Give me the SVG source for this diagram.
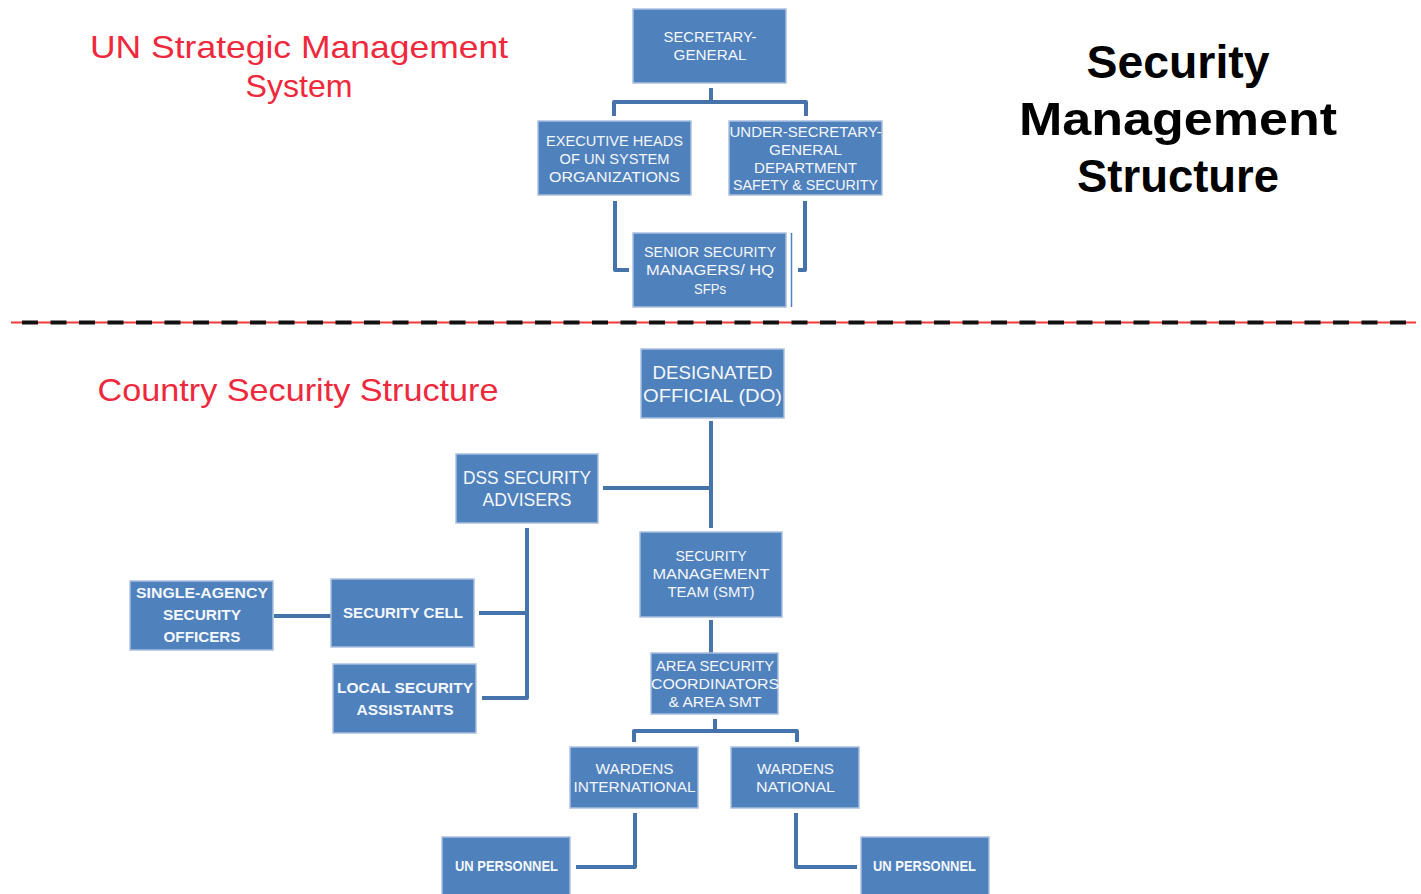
<svg xmlns="http://www.w3.org/2000/svg" width="1421" height="894" viewBox="0 0 1421 894">
<style>
.box{fill:#4F81BD;stroke:#A9C0DF;stroke-width:1.5}
.t{font-family:"Liberation Sans",Arial,sans-serif;fill:#F4F7FC;text-anchor:middle;font-size:15px}
.tb{font-family:"Liberation Sans",Arial,sans-serif;fill:#F4F7FC;text-anchor:middle;font-weight:bold;font-size:15px}
.tl{font-size:18px}
.red{font-family:"Liberation Sans",Arial,sans-serif;fill:#F0283C;text-anchor:middle;font-size:32px}
.big{font-family:"Liberation Sans",Arial,sans-serif;fill:#000;text-anchor:middle;font-weight:bold;font-size:46px}
.c{fill:none;stroke:#4673AA;stroke-width:4;stroke-linejoin:round}
</style>
<rect width="1421" height="894" fill="#fff"/>

<g id="titles">
<text class="red" x="299" y="58" textLength="418" lengthAdjust="spacingAndGlyphs">UN Strategic Management</text>
<text class="red" x="299" y="97" textLength="107" lengthAdjust="spacingAndGlyphs">System</text>
<text class="red" x="298" y="401" textLength="401" lengthAdjust="spacingAndGlyphs">Country Security Structure</text>
<text class="big" x="1178" y="78" textLength="183" lengthAdjust="spacingAndGlyphs">Security</text>
<text class="big" x="1178" y="135" textLength="318" lengthAdjust="spacingAndGlyphs">Management</text>
<text class="big" x="1178" y="192" textLength="202" lengthAdjust="spacingAndGlyphs">Structure</text>
</g>

<g id="divider">
<line x1="11" y1="322.5" x2="1416" y2="322.5" stroke="#F03A3A" stroke-width="2"/>
<line x1="22" y1="322.5" x2="1416" y2="322.5" stroke="#111" stroke-width="4" stroke-dasharray="16 12.5"/>
</g>

<g id="connectors">
<path class="c" d="M711 88V102M614 116V102H806V116"/>
<path class="c" d="M615 201V270H629"/>
<path class="c" d="M805 201V270H798"/>
<path class="c" d="M711 421V528"/>
<path class="c" d="M603 488H711"/>
<path class="c" d="M527 528V698H482"/>
<path class="c" d="M479 613H527"/>
<path class="c" d="M274 616H331" stroke-width="5"/>
<path class="c" d="M711 620V653"/>
<path class="c" d="M715 719V731M634 742V731H797V742"/>
<path class="c" d="M635 813V867H576"/>
<path class="c" d="M796 813V867H857"/>
<line x1="791.5" y1="233" x2="791.5" y2="307" stroke="#4F81BD" stroke-width="1.5"/>
</g>

<g id="sg">
<rect class="box" x="633" y="9" width="153" height="74"/>
<text class="t" x="710" y="42" textLength="93" lengthAdjust="spacingAndGlyphs">SECRETARY-</text>
<text class="t" x="710" y="60" textLength="73" lengthAdjust="spacingAndGlyphs">GENERAL</text>
</g>

<g id="exec">
<rect class="box" x="538" y="121" width="153" height="74"/>
<text class="t" x="614.5" y="146" textLength="137" lengthAdjust="spacingAndGlyphs">EXECUTIVE HEADS</text>
<text class="t" x="614.5" y="164" textLength="110" lengthAdjust="spacingAndGlyphs">OF UN SYSTEM</text>
<text class="t" x="614.5" y="182" textLength="131" lengthAdjust="spacingAndGlyphs">ORGANIZATIONS</text>
</g>

<g id="usg">
<rect class="box" x="729" y="121" width="153" height="74"/>
<text class="t" x="805.5" y="137" textLength="152" lengthAdjust="spacingAndGlyphs">UNDER-SECRETARY-</text>
<text class="t" x="805.5" y="155" textLength="73" lengthAdjust="spacingAndGlyphs">GENERAL</text>
<text class="t" x="805.5" y="173" textLength="103" lengthAdjust="spacingAndGlyphs">DEPARTMENT</text>
<text class="t" x="805.5" y="190" textLength="145" lengthAdjust="spacingAndGlyphs">SAFETY &amp; SECURITY</text>
</g>

<g id="senior">
<rect class="box" x="633" y="233" width="153" height="74"/>
<text class="t" x="710" y="257" textLength="132" lengthAdjust="spacingAndGlyphs">SENIOR SECURITY</text>
<text class="t" x="710" y="275" textLength="128" lengthAdjust="spacingAndGlyphs">MANAGERS/ HQ</text>
<text class="t" x="710" y="294" textLength="32" lengthAdjust="spacingAndGlyphs">SFPs</text>
</g>

<g id="do">
<rect class="box" x="641" y="349" width="143" height="69"/>
<text class="t tl" x="712.5" y="379" textLength="120" lengthAdjust="spacingAndGlyphs">DESIGNATED</text>
<text class="t tl" x="712.5" y="402" textLength="139" lengthAdjust="spacingAndGlyphs">OFFICIAL (DO)</text>
</g>

<g id="dss">
<rect class="box" x="456" y="454" width="142" height="69"/>
<text class="t tl" x="527" y="484" textLength="128" lengthAdjust="spacingAndGlyphs">DSS SECURITY</text>
<text class="t tl" x="527" y="506" textLength="89" lengthAdjust="spacingAndGlyphs">ADVISERS</text>
</g>

<g id="smt">
<rect class="box" x="640" y="532" width="142" height="85"/>
<text class="t" x="711" y="561" textLength="71" lengthAdjust="spacingAndGlyphs">SECURITY</text>
<text class="t" x="711" y="579" textLength="117" lengthAdjust="spacingAndGlyphs">MANAGEMENT</text>
<text class="t" x="711" y="597" textLength="87" lengthAdjust="spacingAndGlyphs">TEAM (SMT)</text>
</g>

<g id="asc">
<rect class="box" x="651" y="653" width="127" height="61"/>
<text class="t" x="715" y="671" textLength="118" lengthAdjust="spacingAndGlyphs">AREA SECURITY</text>
<text class="t" x="715" y="689" textLength="128" lengthAdjust="spacingAndGlyphs">COORDINATORS</text>
<text class="t" x="715" y="707" textLength="93" lengthAdjust="spacingAndGlyphs">&amp; AREA SMT</text>
</g>

<g id="single">
<rect class="box" x="130" y="581" width="143" height="69"/>
<text class="tb" x="202" y="598" textLength="132" lengthAdjust="spacingAndGlyphs">SINGLE-AGENCY</text>
<text class="tb" x="202" y="620" textLength="78" lengthAdjust="spacingAndGlyphs">SECURITY</text>
<text class="tb" x="202" y="642" textLength="77" lengthAdjust="spacingAndGlyphs">OFFICERS</text>
</g>

<g id="cell">
<rect class="box" x="331" y="579" width="143" height="68"/>
<text class="tb" x="403" y="618" textLength="120" lengthAdjust="spacingAndGlyphs">SECURITY CELL</text>
</g>

<g id="local">
<rect class="box" x="333" y="664" width="143" height="69"/>
<text class="tb" x="405" y="693" textLength="136" lengthAdjust="spacingAndGlyphs">LOCAL SECURITY</text>
<text class="tb" x="405" y="715" textLength="97" lengthAdjust="spacingAndGlyphs">ASSISTANTS</text>
</g>

<g id="wi">
<rect class="box" x="570" y="747" width="128" height="61"/>
<text class="t" x="634.5" y="774" textLength="78" lengthAdjust="spacingAndGlyphs">WARDENS</text>
<text class="t" x="634.5" y="792" textLength="122" lengthAdjust="spacingAndGlyphs">INTERNATIONAL</text>
</g>

<g id="wn">
<rect class="box" x="731" y="747" width="128" height="61"/>
<text class="t" x="795.5" y="774" textLength="77" lengthAdjust="spacingAndGlyphs">WARDENS</text>
<text class="t" x="795.5" y="792" textLength="79" lengthAdjust="spacingAndGlyphs">NATIONAL</text>
</g>

<g id="unp1">
<rect class="box" x="442" y="837" width="128" height="62"/>
<text class="tb" x="506.5" y="871" font-size="14" textLength="103" lengthAdjust="spacingAndGlyphs">UN PERSONNEL</text>
</g>

<g id="unp2">
<rect class="box" x="861" y="837" width="128" height="62"/>
<text class="tb" x="924.5" y="871" font-size="14" textLength="103" lengthAdjust="spacingAndGlyphs">UN PERSONNEL</text>
</g>
</svg>
